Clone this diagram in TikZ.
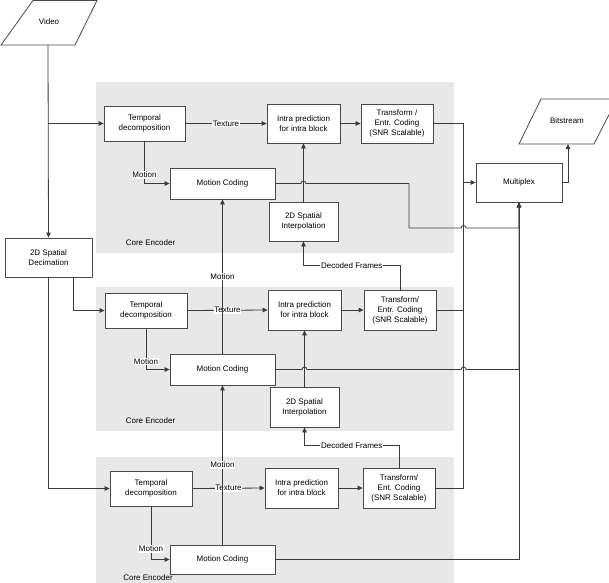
\documentclass[tikz,border=0pt]{standalone}
\usepackage{fontspec}
\setmainfont{Liberation Sans}
\usetikzlibrary{arrows.meta,calc}
\definecolor{ln}{HTML}{3A3A3A}
\definecolor{bd}{HTML}{4A4A4A}
\definecolor{reg}{HTML}{E8E8E8}
\begin{document}
\begin{tikzpicture}[x=1pt,y=-1pt, font=\fontsize{8}{10}\selectfont,
  box/.style={draw=bd, line width=0.8pt, fill=white, align=center, inner sep=0pt},
  wh/.style 2 args={minimum width=#1pt, minimum height=#2pt},
  lbl/.style={fill=white, inner sep=0.8pt},
  conn/.style={draw=ln, line width=0.8pt},
  arr/.style={conn, -{Triangle[length=5pt,width=4.5pt]}}]
\useasboundingbox (0,0) rectangle (609,582);
\fill[white] (0,0) rectangle (609,582);
% regions
\fill[reg] (96,82) rectangle (454,253);
\fill[reg] (96,287) rectangle (454,431);
\fill[reg] (96,457) rectangle (454,600);
\node (ce1) at (150.5,243) {Core Encoder};
\node (ce2) at (150.5,421) {Core Encoder};
\node[inner sep=0pt] (ce3) at (148,578) {Core Encoder};
% input / output
\draw[draw=bd, line width=0.8pt, fill=white] (33,0.5) -- (97,0.5) -- (75,45) -- (1,45) -- cycle;
\node (video) at (49,22) {Video};
\coordinate (videoB) at (48,45);
\draw[draw=bd, line width=0.8pt, fill=white] (541,99) -- (617,99) -- (594,144) -- (519,144) -- cycle;
\node (bits) at (567,121) {Bitstream};
\coordinate (bitsB) at (568,144);
% boxes
\node[box, wh={87}{39}] (dec) at (48.5,257.5) {2D Spatial\\Decimation};
\node[box, wh={86}{39}] (mux) at (519,182.5) {Multiplex};
% layer 1
\node[box, wh={81}{35}] (td1) at (144.5,123.5) {Temporal\\decomposition};
\node[box, wh={73}{39}] (ip1) at (303.5,123.5) {Intra prediction\\for intra block};
\node[box, wh={72}{39}] (tr1) at (397,123.5) {Transform /\\Entr. Coding\\(SNR Scalable)};
\node[box, wh={105}{31}] (mc1) at (222.5,183.5) {Motion Coding};
\node[box, wh={69}{39}] (in1) at (303.5,221.5) {2D Spatial\\Interpolation};
% layer 2
\node[box, wh={82}{35}] (td2) at (146,310.5) {Temporal\\decomposition};
\node[box, wh={73}{40}] (ip2) at (304.5,310) {Intra prediction\\for intra block};
\node[box, wh={72}{40}] (tr2) at (400,310) {Transform/\\Entr. Coding\\(SNR Scalable)};
\node[box, wh={105}{31}] (mc2) at (222.5,369.5) {Motion Coding};
\node[box, wh={69}{40}] (in2) at (304.5,407) {2D Spatial\\Interpolation};
% layer 3
\node[box, wh={82}{35}] (td3) at (151,488.5) {Temporal\\decomposition};
\node[box, wh={73}{40}] (ip3) at (301.5,488) {Intra prediction\\for intra block};
\node[box, wh={72}{40}] (tr3) at (399,488) {Transform/\\Ent. Coding\\(SNR Scalable)};
\node[box, wh={105}{29}] (mc3) at (222.5,559.5) {Motion Coding};
% helper coordinates
\coordinate (busA) at ($(mux.west)+(-12,0)$);
\coordinate (m1a) at (409,183.5);
\coordinate (m1b) at (409,228);
% input connectors
\draw[arr] (videoB) -- (dec.north);
\draw[arr] (videoB |- td1.west) -- (td1.west);
\draw[arr] ($(dec.south west)+(69,0)$) |- (td2.west);
\draw[arr] (dec.south) |- (td3.west);
% texture
\draw[arr] (td1.east) -- node[lbl]{Texture} (ip1.west);
\draw[arr] (td2.east) -- node[lbl]{Texture} (ip2.west);
\draw[arr] (td3.east) -- node[lbl]{Texture} (ip3.west);
\draw[arr] (ip1.east) -- (tr1.west);
\draw[arr] (ip2.east) -- (tr2.west);
\draw[arr] (ip3.east) -- (tr3.west);
% motion from temporal decomposition
\draw[arr] (td1.south) |- node[lbl,pos=0.4]{Motion} (mc1.west);
\draw[arr] (td2.south) |- node[lbl,pos=0.4]{Motion} (mc2.west);
\draw[arr] (td3.south) |- node[lbl,pos=0.4]{Motion} (mc3.west);
% motion coding chain
\draw[arr] (mc2.north) -- node[lbl]{Motion} (mc1.south);
\draw[arr] (mc3.north) -- node[lbl]{Motion} (mc2.south);
% interpolation
\draw[arr] (in1.north) -- (ip1.south);
\draw[arr] (in2.north) -- (ip2.south);
\draw[arr] (tr2.north) -- ++(0,-24) -| node[lbl,pos=0.25]{Decoded Frames} (in1.south);
\draw[arr] (tr3.north) -- ++(0,-22) -| node[lbl,pos=0.25]{Decoded Frames} (in2.south);
% texture bus to multiplex
\draw[arr] (tr1.east) -| (busA) -- (mux.west);
\draw[conn] (tr2.east) -| (busA);
\draw[conn] (tr3.east) -| (busA);
% motion bus to multiplex
\draw[arr] (mc1.east) -- ($(mc1.east -| in1.north)+(-2.5,0)$) arc[start angle=180,end angle=360,radius=2.5]
  -- (m1a) -- (m1b) -- ($(m1b -| busA)+(-2.5,0)$) arc[start angle=180,end angle=360,radius=2.5]
  -| (mux.south);
\draw[arr] (mc2.east) -- ($(mc2.east -| in2.north)+(-2.5,0)$) arc[start angle=180,end angle=360,radius=2.5]
  -- ($(mc2.east -| busA)+(-2.5,0)$) arc[start angle=180,end angle=360,radius=2.5]
  -| (mux.south);
\draw[arr] (mc3.east) -| (mux.south);
% output
\draw[arr] (mux.east) -| (bitsB);
\end{tikzpicture}
\end{document}
